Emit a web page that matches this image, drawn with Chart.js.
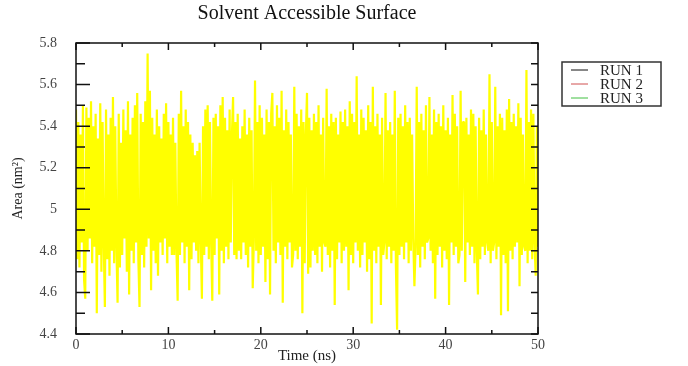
<!DOCTYPE html>
<html>
<head>
<meta charset="utf-8">
<title>Solvent Accessible Surface</title>
<script src="https://cdn.jsdelivr.net/npm/chart.js@4.4.1/dist/chart.umd.min.js"></script>
<style>
  html, body { margin: 0; padding: 0; background: #fff; }
  #wrap { width: 688px; height: 366px; }
</style>
</head>
<body>
<div id="wrap"><canvas id="sasChart" width="688" height="366"></canvas></div>
<script>
// legend entries of the original plot
const runLabels = ['RUN 1', 'RUN 2', 'RUN 3'];
const runColors = ['#111111', '#d05050', '#40c040'];

// area (nm^2), one value every 0.125 ns (8 values per ns)
const timeStep = 0.125;
const areaValues = [
  5.48, 4.76, 5.42, 4.72, 5.36, 4.84, 5.50, 4.66,
  4.57, 5.49, 4.80, 5.44, 4.86, 5.52, 4.74, 5.40,
  4.82, 5.46, 4.50, 5.34, 4.78, 5.51, 4.70, 5.42,
  4.84, 4.53, 5.48, 4.76, 5.36, 4.68, 5.44, 4.80,
  5.54, 4.74, 5.40, 4.82, 4.55, 5.46, 4.72, 5.32,
  4.78, 5.48, 4.86, 5.38, 4.70, 5.52, 4.59, 5.36,
  4.80, 5.44, 4.74, 5.50, 4.84, 5.56, 4.76, 4.53,
  5.46, 4.78, 5.42, 4.72, 5.52, 4.82, 5.75, 4.86,
  5.57, 4.61, 5.44, 4.80, 5.36, 4.74, 5.48, 4.68,
  5.40, 4.84, 5.34, 4.78, 5.46, 4.86, 5.51, 4.74,
  5.42, 4.82, 5.36, 4.78, 5.44, 4.78, 5.32, 4.80,
  4.56, 5.46, 4.78, 5.57, 4.84, 5.40, 4.74, 5.48,
  4.82, 5.42, 4.61, 5.36, 4.76, 5.32, 4.84, 5.26,
  4.80, 5.28, 4.74, 5.32, 4.86, 4.57, 5.40, 4.78,
  5.48, 4.82, 5.50, 4.76, 5.42, 4.84, 4.56, 5.44,
  4.78, 5.46, 4.86, 5.40, 4.59, 5.50, 4.80, 5.54,
  4.74, 5.44, 4.82, 5.38, 4.76, 5.48, 4.84, 5.36,
  5.54, 4.78, 5.42, 4.76, 5.46, 4.80, 5.34, 4.76,
  5.40, 4.84, 5.48, 4.78, 5.36, 4.72, 5.44, 4.82,
  5.38, 4.62, 4.86, 5.62, 4.80, 5.42, 4.74, 5.50,
  4.78, 5.44, 4.82, 5.36, 4.65, 5.48, 4.76, 5.42,
  4.59, 5.46, 5.56, 4.80, 5.40, 4.74, 5.50, 4.84,
  5.44, 4.78, 5.57, 4.55, 5.38, 4.82, 5.48, 4.76,
  5.42, 4.84, 5.36, 4.72, 4.78, 5.59, 4.80, 5.46,
  4.76, 5.40, 4.82, 5.48, 4.50, 5.42, 4.74, 5.36,
  5.56, 4.69, 5.44, 4.72, 5.38, 4.80, 5.46, 4.78,
  5.42, 4.74, 5.50, 4.82, 5.36, 4.70, 5.44, 4.84,
  4.82, 5.58, 4.78, 5.40, 4.72, 5.46, 4.80, 5.42,
  4.54, 5.44, 4.76, 5.36, 4.84, 5.47, 4.74, 5.42,
  4.80, 5.48, 4.82, 5.40, 4.61, 5.52, 4.78, 5.46,
  4.74, 5.42, 4.84, 5.64, 4.80, 5.36, 4.72, 5.48,
  4.78, 5.44, 4.84, 5.38, 4.70, 5.50, 4.76, 5.42,
  4.45, 5.59, 4.80, 5.40, 4.74, 5.46, 4.82, 5.36,
  4.54, 5.44, 4.78, 4.84, 5.56, 4.76, 5.38, 4.82,
  5.42, 4.74, 5.36, 4.80, 5.57, 4.72, 4.42, 5.44,
  4.78, 5.46, 4.82, 5.40, 4.76, 5.50, 4.84, 5.42,
  4.74, 5.44, 4.80, 5.36, 4.86, 4.63, 4.82, 5.59,
  4.78, 5.42, 4.72, 5.46, 4.82, 5.38, 4.76, 5.50,
  4.84, 4.86, 5.54, 4.80, 5.36, 4.74, 5.48, 4.57,
  5.42, 4.78, 5.46, 4.82, 5.40, 4.72, 5.50, 4.80,
  5.38, 4.76, 5.44, 4.54, 5.36, 4.84, 5.55, 4.78,
  5.46, 4.82, 5.40, 4.74, 4.78, 5.57, 4.80, 5.42,
  5.42, 4.65, 5.44, 4.84, 5.36, 4.78, 5.48, 4.82,
  5.46, 4.74, 5.40, 4.80, 4.59, 5.44, 4.76, 5.38,
  4.82, 5.48, 4.78, 5.36, 4.84, 4.80, 5.65, 4.74,
  5.42, 4.80, 4.84, 5.59, 4.76, 5.40, 4.82, 5.46,
  4.49, 5.44, 4.78, 5.38, 4.74, 5.48, 4.51, 5.53,
  4.80, 5.42, 4.76, 5.46, 4.82, 5.40, 4.84, 5.51,
  4.63, 5.44, 4.78, 5.36, 4.82, 4.80, 5.67, 4.74,
  5.42, 4.80, 5.48, 4.76, 5.46, 4.84, 4.68, 5.40,
  4.82
];

const xTickValues = [0, 10, 20, 30, 40, 50];
const xMinorTicks = [5, 15, 25, 35, 45];
const yTickValues = [4.4, 4.6, 4.8, 5, 5.2, 5.4, 5.6, 5.8];
const yTickLabels = ['4.4', '4.6', '4.8', '5', '5.2', '5.4', '5.6', '5.8'];
const yMinorTicks = [4.5, 4.7, 4.9, 5.1, 5.3, 5.5, 5.7];

const serif = 'Liberation Serif';

// box + inward ticks on all four sides, like xmgrace
const frameTicks = {
    id: 'frameTicks',
    afterDatasetsDraw(chart) {
        const { ctx, chartArea: a, scales: { x, y } } = chart;
        ctx.save();
        ctx.strokeStyle = '#111';
        ctx.lineWidth = 1.5;
        ctx.beginPath();
        const tickX = (v, len) => {
            const px = x.getPixelForValue(v);
            ctx.moveTo(px, a.bottom); ctx.lineTo(px, a.bottom - len);
            ctx.moveTo(px, a.top); ctx.lineTo(px, a.top + len);
        };
        const tickY = (v, lenL, lenR) => {
            const py = y.getPixelForValue(v);
            ctx.moveTo(a.left, py); ctx.lineTo(a.left + lenL, py);
            ctx.moveTo(a.right, py); ctx.lineTo(a.right - lenR, py);
        };
        xTickValues.forEach(v => tickX(v, 7));
        xMinorTicks.forEach(v => tickX(v, 4));
        yTickValues.forEach(v => tickY(v, 14, 7));
        yMinorTicks.forEach(v => tickY(v, 9, 7));
        ctx.stroke();
        ctx.strokeRect(a.left, a.top, a.right - a.left, a.bottom - a.top);
        ctx.restore();
    }
};

// framed legend to the right of the plot
const runLegend = {
    id: 'runLegend',
    afterDraw(chart) {
        const { ctx, chartArea: a } = chart;
        const items = chart.data.datasets.filter(d => d.label);
        const bx = a.right + 24, by = a.top + 19, bw = 99, rowH = 14;
        const bh = items.length * rowH + 2;
        ctx.save();
        ctx.strokeStyle = '#333';
        ctx.lineWidth = 1.5;
        ctx.strokeRect(bx, by, bw, bh);
        ctx.font = '15px "' + serif + '"';
        ctx.textBaseline = 'middle';
        ctx.fillStyle = '#222';
        items.forEach((d, i) => {
            const ry = by + 8 + i * rowH;
            ctx.strokeStyle = d.borderColor;
            ctx.lineWidth = 1;
            ctx.beginPath();
            ctx.moveTo(bx + 9, ry);
            ctx.lineTo(bx + 26, ry);
            ctx.stroke();
            ctx.fillText(d.label, bx + 38, ry + 1);
        });
        ctx.restore();
    }
};

const runDatasets = runLabels.map((label, i) => ({
    label: label,
    data: [],
    borderColor: runColors[i],
    borderWidth: 1,
    pointRadius: 0
}));

const areaPoints = areaValues.map((v, i) => ({ x: i * timeStep, y: v }));

new Chart(document.getElementById('sasChart'), {
    type: 'line',
    data: {
        datasets: [{
            label: '',
            data: areaPoints,
            borderColor: '#ffff00',
            borderWidth: 2.2,
            borderJoinStyle: 'bevel',
            pointRadius: 0,
            tension: 0
        }].concat(runDatasets)
    },
    options: {
        responsive: false,
        animation: false,
        events: [],
        layout: { padding: { left: 0, right: 150, top: 0, bottom: 0 } },
        plugins: {
            legend: { display: false },
            tooltip: { enabled: false },
            title: {
                display: true,
                text: 'Solvent Accessible Surface',
                fullSize: false,
                color: '#111',
                font: { family: serif, size: 20, weight: 'normal' },
                padding: { top: 2, bottom: 17 }
            }
        },
        scales: {
            x: {
                type: 'linear',
                min: 0,
                max: 50,
                afterFit: s => { s.height = 32; },
                afterBuildTicks: s => { s.ticks = xTickValues.map(v => ({ value: v })); },
                grid: { display: false, drawTicks: false },
                border: { display: false },
                ticks: {
                    padding: 3,
                    maxRotation: 0,
                    autoSkip: false,
                    color: '#444',
                    font: { family: serif, size: 14 }
                },
                title: {
                    display: true,
                    text: 'Time (ns)',
                    color: '#222',
                    font: { family: serif, size: 15 },
                    padding: { top: 0, bottom: 1 }
                }
            },
            y: {
                min: 4.4,
                max: 5.8,
                afterFit: s => { s.width = 76; },
                afterBuildTicks: s => { s.ticks = yTickValues.map(v => ({ value: v })); },
                grid: { display: false, drawTicks: false },
                border: { display: false },
                ticks: {
                    padding: 19,
                    autoSkip: false,
                    color: '#444',
                    font: { family: serif, size: 14 },
                    callback: v => yTickLabels[yTickValues.indexOf(v)]
                },
                title: {
                    display: true,
                    text: 'Area (nm²)',
                    color: '#222',
                    font: { family: serif, size: 14 },
                    padding: { top: 10, bottom: 0 }
                }
            }
        }
    },
    plugins: [frameTicks, runLegend]
});
</script>
</body>
</html>
